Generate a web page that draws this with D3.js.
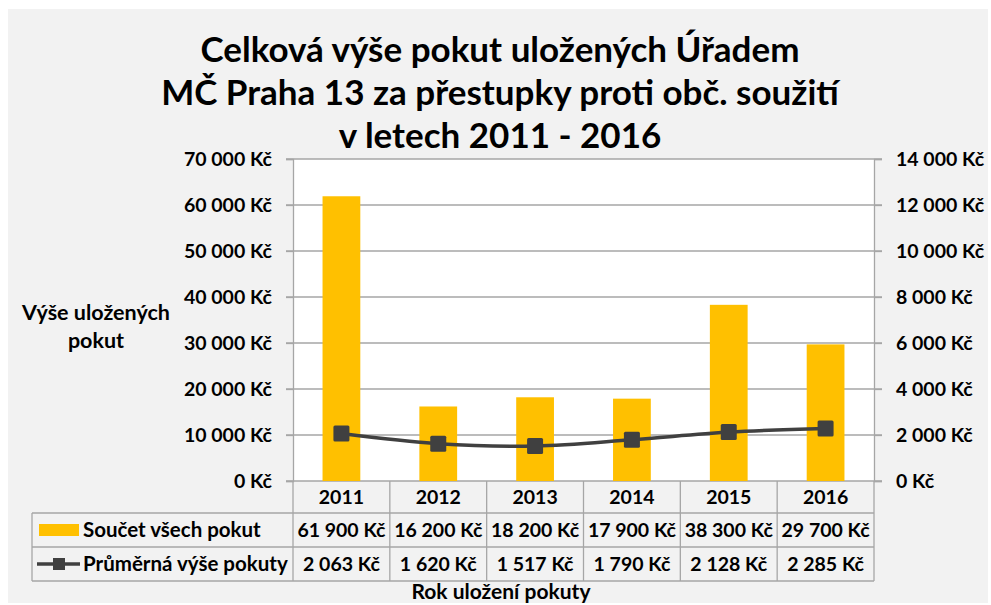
<!DOCTYPE html>
<html lang="cs">
<head>
<meta charset="UTF-8">
<title>Celková výše pokut</title>
<script src="https://d3js.org/d3.v7.min.js"></script>
<style>
  body { margin: 0; background: #fff; }
  text { font-family: Lato, "Open Sans", sans-serif; font-weight: bold; fill: #000; }
  .grid line { stroke: #a6a6a6; stroke-width: 1.3px; }
  .cell { stroke: #a6a6a6; stroke-width: 1.3px; fill: none; }
</style>
</head>
<body>
<svg width="991" height="605"></svg>
<script>
  const years = ["2011", "2012", "2013", "2014", "2015", "2016"];
  const totals = [61900, 16200, 18200, 17900, 38300, 29700];
  const averages = [2063, 1620, 1517, 1790, 2128, 2285];
  const leftTicks = [0, 10000, 20000, 30000, 40000, 50000, 60000, 70000];
  const rightTicks = [0, 2000, 4000, 6000, 8000, 10000, 12000, 14000];
  const titleLines = ["Celková výše pokut uložených Úřadem", "MČ Praha 13 za přestupky proti obč. soužití", "v letech 2011 - 2016"];
  const seriesNames = ["Součet všech pokut", "Průměrná výše pokuty"];

  const cz = d3.formatLocale({ decimal: ",", thousands: "\u00a0", grouping: [3], currency: ["", "\u00a0Kč"] });
  const kc = cz.format("$,.0f");

  const svg = d3.select("svg");
  const plot = { left: 293, right: 874, top: 159, bottom: 481 };
  const barColor = "#ffc000", lineColor = "#404040";

  // chart background
  svg.append("rect").attr("x", 8).attr("y", 9).attr("width", 980).attr("height", 594).attr("fill", "#f2f2f2");
  svg.append("rect").attr("x", plot.left).attr("y", plot.top)
    .attr("width", plot.right - plot.left).attr("height", plot.bottom - plot.top).attr("fill", "#fff");

  const x = d3.scaleBand().domain(years).range([plot.left, plot.right]);
  const yL = d3.scaleLinear().domain([0, 70000]).range([plot.bottom, plot.top]);
  const yR = d3.scaleLinear().domain([0, 14000]).range([plot.bottom, plot.top]);

  // title
  svg.append("text").attr("x", 500).attr("y", 62).attr("text-anchor", "middle").style("font-size", "35px")
    .selectAll("tspan").data(titleLines).join("tspan")
    .attr("x", 500).attr("dy", (d, i) => i ? 43 : 0).text(d => d);

  // gridlines
  svg.append("g").attr("class", "grid")
    .selectAll("line").data(leftTicks).join("line")
    .attr("x1", plot.left - 7).attr("x2", plot.right + 8)
    .attr("y1", d => yL(d)).attr("y2", d => yL(d));

  // axes
  const axL = svg.append("g").attr("transform", `translate(${plot.left},0)`)
    .call(d3.axisLeft(yL).tickValues(leftTicks).tickFormat(kc).tickSize(7).tickPadding(14));
  const axR = svg.append("g").attr("transform", `translate(${plot.right},0)`)
    .call(d3.axisRight(yR).tickValues(rightTicks).tickFormat(kc).tickSize(8).tickPadding(14));
  [axL, axR].forEach(a => {
    a.attr("font-family", null).attr("font-size", null);
    a.select(".domain").attr("stroke", "#a6a6a6").attr("stroke-width", 1.3);
    a.selectAll(".tick line").attr("stroke", "#a6a6a6").attr("stroke-width", 1.3);
    a.selectAll("text").style("font-size", "19.5px").attr("fill", "#000").attr("dy", "0.35em");
  });

  // left axis title
  svg.append("text").attr("text-anchor", "middle").style("font-size", "21.5px")
    .selectAll("tspan").data(["Výše uložených", "pokut"]).join("tspan")
    .attr("x", 96).attr("y", (d, i) => 320 + i * 28).text(d => d);

  // bars
  const bw = x.bandwidth() * 0.39;
  svg.append("g").selectAll("rect").data(totals).join("rect")
    .attr("x", (d, i) => x(years[i]) + (x.bandwidth() - bw) / 2)
    .attr("width", bw)
    .attr("y", d => yL(d))
    .attr("height", d => plot.bottom - yL(d))
    .attr("fill", barColor);

  // average line
  const cx = i => x(years[i]) + x.bandwidth() / 2;
  const line = d3.line().x((d, i) => cx(i)).y(d => yR(d)).curve(d3.curveCatmullRom.alpha(0.5));
  svg.append("path").datum(averages).attr("d", line)
    .attr("fill", "none").attr("stroke", lineColor).attr("stroke-width", 3.5);
  const ms = 16;
  svg.append("g").selectAll("rect").data(averages).join("rect")
    .attr("x", (d, i) => cx(i) - ms / 2).attr("y", d => yR(d) - ms / 2)
    .attr("width", ms).attr("height", ms).attr("rx", 1.5)
    .attr("fill", lineColor);

  // data table
  const rows = [
    { top: plot.bottom, bottom: 513 },
    { top: 513, bottom: 547 },
    { top: 547, bottom: 581 }
  ];
  const tableLeft = 32;
  const tbl = svg.append("g");
  [rows[1].top, rows[2].top, rows[2].bottom].forEach(yy =>
    tbl.append("line").attr("class", "cell").attr("x1", tableLeft).attr("x2", plot.right).attr("y1", yy).attr("y2", yy));
  tbl.append("line").attr("class", "cell").attr("x1", tableLeft).attr("x2", tableLeft).attr("y1", rows[1].top).attr("y2", rows[2].bottom);
  tbl.selectAll(".col").data(years.concat(["end"])).join("line").attr("class", "cell")
    .attr("x1", (d, i) => plot.left + i * x.step()).attr("x2", (d, i) => plot.left + i * x.step())
    .attr("y1", plot.bottom).attr("y2", rows[2].bottom);

  const cellText = (arr, row, fmt) => tbl.append("g").selectAll("text").data(arr).join("text")
    .attr("x", (d, i) => cx(i)).attr("y", (row.top + row.bottom) / 2).attr("dy", "0.36em")
    .attr("text-anchor", "middle").style("font-size", "19.5px").text(fmt);
  cellText(years, rows[0], d => d);
  cellText(totals, rows[1], kc);
  cellText(averages, rows[2], kc);

  // legend keys in the table
  const r1 = (rows[1].top + rows[1].bottom) / 2, r2 = (rows[2].top + rows[2].bottom) / 2;
  tbl.append("rect").attr("x", 39).attr("y", r1 - 6).attr("width", 40).attr("height", 12).attr("fill", barColor);
  tbl.append("line").attr("x1", 37).attr("x2", 80).attr("y1", r2).attr("y2", r2)
    .attr("stroke", lineColor).attr("stroke-width", 3.5);
  tbl.append("rect").attr("x", 53).attr("y", r2 - 6).attr("width", 12).attr("height", 12).attr("fill", lineColor);
  tbl.selectAll(".lg").data(seriesNames).join("text")
    .attr("x", 83).attr("y", (d, i) => i ? r2 : r1).attr("dy", "0.36em")
    .style("font-size", "20.5px").text(d => d);

  // x axis title
  svg.append("text").attr("x", 501).attr("y", 599).attr("text-anchor", "middle")
    .style("font-size", "21px").text("Rok uložení pokuty");
</script>
</body>
</html>
